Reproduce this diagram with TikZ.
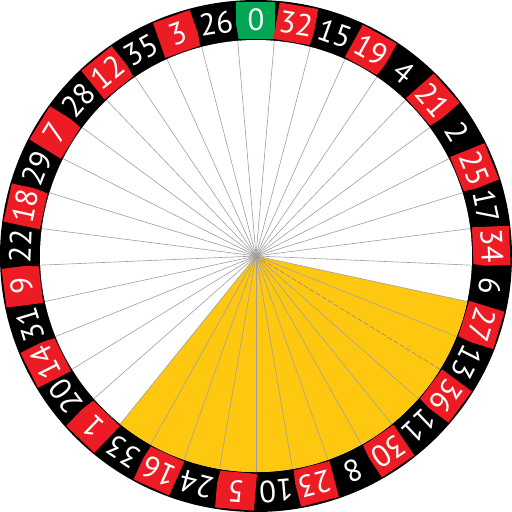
\documentclass[tikz,border=0pt]{standalone}
\usepackage{fontspec}
\setsansfont{PT Sans}
\usetikzlibrary{calc}
\definecolor{wheelred}{RGB}{237,28,36}
\definecolor{wheelgreen}{RGB}{0,166,81}
\definecolor{betyellow}{RGB}{255,200,16}
\definecolor{spokegray}{RGB}{160,160,160}

\begin{document}
\begin{tikzpicture}[
      x=0.02cm, y=0.02cm,
      num/.style={text=white, inner sep=0pt,
                  font=\sffamily\fontsize{17.5}{18}\selectfont},
      spoke/.style={draw=spokegray, line width=0.35pt},
      betspoke/.style={spoke, draw=black!45, dash pattern=on 3pt off 1pt}
  ]
    \useasboundingbox (-256,-256) rectangle (256,256);
    \coordinate (hub) at (0,0);

    % black ring
    \fill[black] (hub) circle (256);

    % pockets (green / red boxes) and numbers
    \begin{scope}
      \clip (hub) circle (255);
      \foreach \n/\c [count=\i from 0] in {0/wheelgreen, 32/wheelred, 15/black,
          19/wheelred, 4/black, 21/wheelred, 2/black, 25/wheelred, 17/black,
          34/wheelred, 6/black, 27/wheelred, 13/black, 36/wheelred, 11/black,
          30/wheelred, 8/black, 23/wheelred, 10/black, 5/wheelred, 24/black,
          16/wheelred, 33/black, 1/wheelred, 20/black, 14/wheelred, 31/black,
          9/wheelred, 22/black, 18/wheelred, 29/black, 7/wheelred, 28/black,
          12/wheelred, 35/black, 3/wheelred, 26/black} {
        \pgfmathsetmacro\ang{90-\i*360/37}
        \fill[\c, rotate=\ang] (217,-19.5) rectangle (254,19.5);
        \node[num, rotate=\ang-90] (p\n) at (\ang:236) {\n};
      }
    \end{scope}

    % inner field
    \fill[white] (hub) circle (216);

    % bet: pockets 27 ... 33
    \fill[betyellow] (hub) -- (-12.162:216)
      arc[start angle=-12.162, end angle=-128.919, radius=216] -- cycle;

    % spokes between pockets
    \foreach \k in {0,...,36} {
      \ifnum\k=12
        \draw[betspoke] (hub) -- ({90-(\k+0.5)*360/37}:216);
      \else
        \draw[spoke] (hub) -- ({90-(\k+0.5)*360/37}:216);
      \fi
    }
  \end{tikzpicture}
\end{document}
